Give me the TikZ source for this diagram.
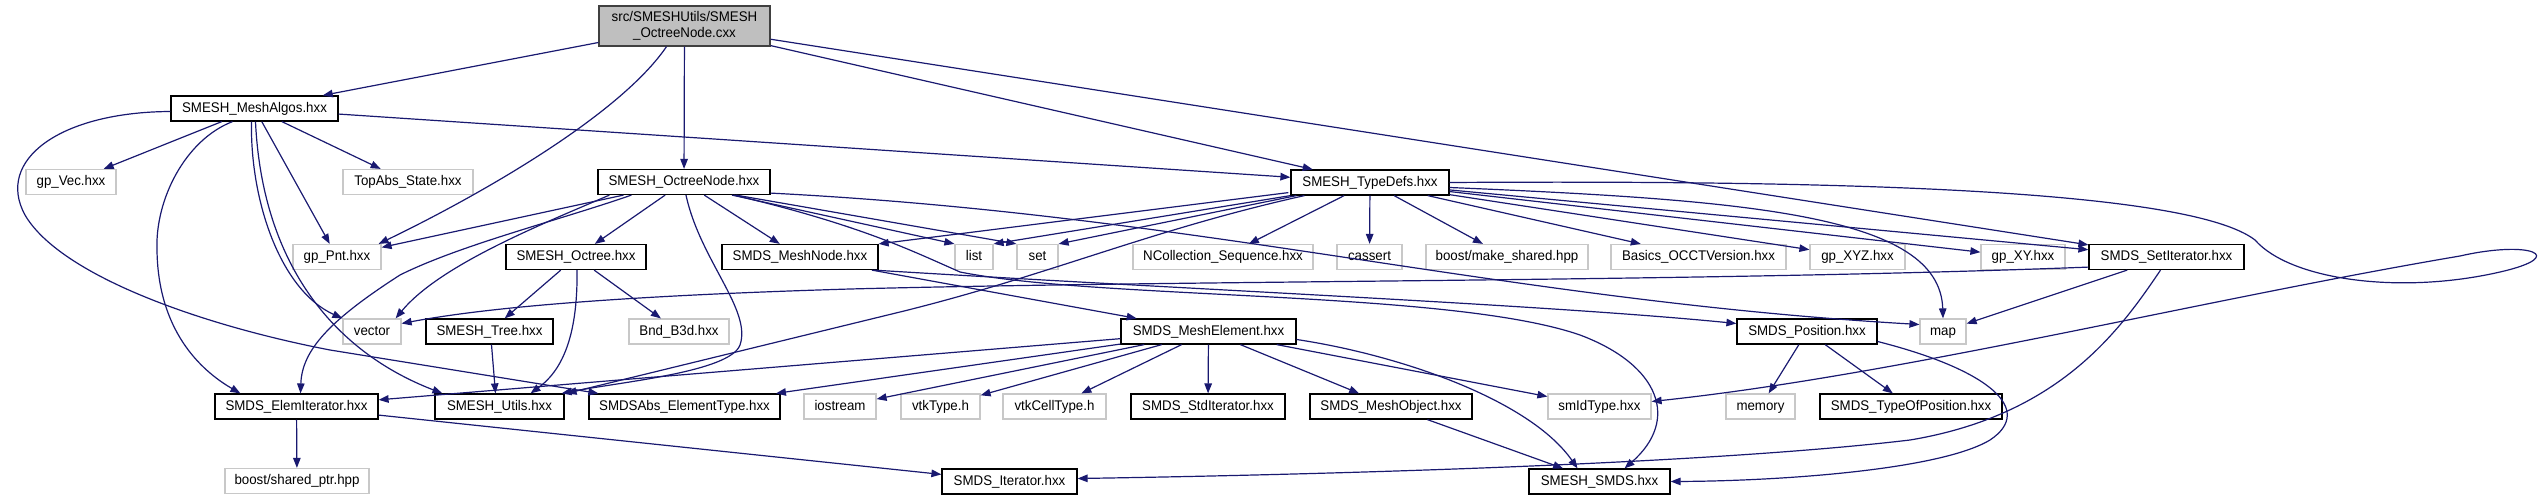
\documentclass[tikz,border=0pt]{standalone}
\usepackage{fontspec}
\setmainfont[FakeStretch=0.95]{Liberation Sans}
\usetikzlibrary{arrows.meta,calc}
\definecolor{edgec}{RGB}{25,25,112}
\definecolor{rootfill}{RGB}{191,191,191}
\definecolor{extc}{RGB}{200,200,200}
\begin{document}
\begin{tikzpicture}[x=1pt,y=-1pt,
  basebox/.style={rectangle, line width=1.2pt, inner sep=0pt, font=\fontsize{14}{16}\selectfont},
  box/.style={basebox, minimum height=25pt, text height=10.2pt, text depth=3pt},
  doc/.style={box, draw=black, fill=white},
  ext/.style={box, draw=extc, fill=white},
  rootbox/.style={basebox, draw=black!75, fill=rootfill, minimum height=40pt, align=center},
  e/.style={draw=edgec, line width=1.2pt, -{Triangle[length=10pt,width=7.5pt]}},
]
\useasboundingbox (0,0) rectangle (2545,500);
% nodes
\node[rootbox, minimum width=171pt] (root) at (684.5,26) {src/SMESHUtils/SMESH\\\_OctreeNode.cxx};
\node[doc, minimum width=167pt] (ma) at (254.5,108.5) {SMESH\_MeshAlgos.hxx};
\node[ext, minimum width=90pt] (vec) at (71,182) {gp\_Vec.hxx};
\node[ext, minimum width=130pt] (ta) at (408,182) {TopAbs\_State.hxx};
\node[doc, minimum width=172pt] (on) at (684,182) {SMESH\_OctreeNode.hxx};
\node[doc, minimum width=158pt] (td) at (1370,182.5) {SMESH\_TypeDefs.hxx};
\node[ext, minimum width=88pt] (pnt) at (337,257) {gp\_Pnt.hxx};
\node[doc, minimum width=140pt] (oc) at (576,257) {SMESH\_Octree.hxx};
\node[doc, minimum width=156pt] (mn) at (800,257) {SMDS\_MeshNode.hxx};
\node[ext, minimum width=38pt] (list) at (974,257) {list};
\node[ext, minimum width=41pt] (set) at (1037.5,257) {set};
\node[ext, minimum width=180pt] (nc) at (1223,257) {NCollection\_Sequence.hxx};
\node[ext, minimum width=65pt] (ca) at (1369.5,257) {cassert};
\node[ext, minimum width=162pt] (ms) at (1507,257) {boost/make\_shared.hpp};
\node[ext, minimum width=175pt] (ba) at (1698.5,257) {Basics\_OCCTVersion.hxx};
\node[ext, minimum width=95pt] (xyz) at (1857.5,257) {gp\_XYZ.hxx};
\node[ext, minimum width=84pt] (xy) at (2023,257) {gp\_XY.hxx};
\node[doc, minimum width=155pt] (si) at (2166.5,257) {SMDS\_SetIterator.hxx};
\node[ext, minimum width=58pt] (vector) at (372,331.5) {vector};
\node[doc, minimum width=127pt] (tr) at (489.5,331.5) {SMESH\_Tree.hxx};
\node[ext, minimum width=100pt] (bnd) at (679,331.5) {Bnd\_B3d.hxx};
\node[doc, minimum width=175pt] (me) at (1208.5,331.5) {SMDS\_MeshElement.hxx};
\node[doc, minimum width=140pt] (pos) at (1807,331.5) {SMDS\_Position.hxx};
\node[ext, minimum width=46pt] (map) at (1943,331.5) {map};
\node[doc, minimum width=163pt] (ei) at (296.5,406.5) {SMDS\_ElemIterator.hxx};
\node[doc, minimum width=129pt] (ut) at (499.5,406.5) {SMESH\_Utils.hxx};
\node[doc, minimum width=191pt] (ab) at (684.5,406.5) {SMDSAbs\_ElementType.hxx};
\node[ext, minimum width=72pt] (io) at (840,406.5) {iostream};
\node[ext, minimum width=79pt] (vt) at (940.5,406.5) {vtkType.h};
\node[ext, minimum width=103pt] (vct) at (1054.5,406.5) {vtkCellType.h};
\node[doc, minimum width=154pt] (std) at (1208,406.5) {SMDS\_StdIterator.hxx};
\node[doc, minimum width=162pt] (mo) at (1391,406.5) {SMDS\_MeshObject.hxx};
\node[ext, minimum width=103pt] (sid) at (1599.5,406.5) {smIdType.hxx};
\node[ext, minimum width=69pt] (mem) at (1760.5,406.5) {memory};
\node[doc, minimum width=182pt] (tpos) at (1911,406.5) {SMDS\_TypeOfPosition.hxx};
\node[ext, minimum width=144pt] (sp) at (297,481) {boost/shared\_ptr.hpp};
\node[doc, minimum width=135pt] (sit) at (1009.5,481.5) {SMDS\_Iterator.hxx};
\node[doc, minimum width=141pt] (smds) at (1599.5,481.5) {SMESH\_SMDS.hxx};
% edges from root
\draw[e] (root) -- (ma);
\draw[e] ($(root.south)+(-18,0)$) .. controls (620,115) and (480,195) .. ($(pnt.north east)+(-3,0)$);
\draw[e] (root) -- (on);
\draw[e] (root) -- (td);
\draw[e] (root) -- (si);
% MeshAlgos
\draw[e] (ma) -- (vec);
\draw[e] (ma) -- (ta);
\draw[e] (ma) -- (pnt);
\draw[e] (ma) -- (td);
\draw[e] ($(ma.south)+(-3,0)$) .. controls (250,200) and (280,290) .. (vector.north west);
\draw[e] ($(ma.south)+(1,0)$) .. controls (262,260) and (330,350) .. ($(ut.north west)+(8,0)$);
\draw[e] ($(ma.south)+(-22,0)$) .. controls (185,140) and (155,200) .. (157,250) .. controls (158,330) and (200,370) .. ($(ei.north west)+(26,0)$);
\draw[e] ($(ma.west)+(0,3)$) .. controls (60,112) and (-5,160) .. (25,215) .. controls (60,275) and (200,325) .. (330,350) -- ($(ab.north west)+(10,0)$);
% OctreeNode.hxx
\draw[e] (on) -- (pnt);
\draw[e] ($(on.south west)+(12,0)$) .. controls (540,225) and (440,265) .. ($(vector.north east)+(-6,0)$);
\draw[e] ($(on.south west)+(34,0)$) .. controls (560,220) and (460,245) .. (400,275) .. controls (330,320) and (302,350) .. ($(ei.north)+(4,0)$);
\draw[e] (on) -- (oc);
\draw[e] (on) -- (mn);
\draw[e] ($(on.south)+(2,0)$) .. controls (700,260) and (752,310) .. (740,345) .. controls (730,372) and (620,382) .. ($(ut.north east)+(-3,0)$);
\draw[e] ($(on.south)+(48,0)$) -- (list.north west);
\draw[e] ($(on.south)+(52,0)$) -- (set.north west);
\draw[e] ($(on.south east)+(0,-2)$) .. controls (1200,215) and (1500,300) .. ($(map.west)+(0,-7)$);
\draw[e] ($(on.south)+(50,0)$) .. controls (860,225) and (910,250) .. (960,272) .. controls (1100,300) and (1450,290) .. (1580,335) .. controls (1660,365) and (1680,420) .. ($(smds.north)+(25,0)$);
% TypeDefs
\draw[e] (td.south west) -- (list.north east);
\draw[e] ($(td.south west)+(6,0)$) -- (set.north east);
\draw[e] ($(td.south west)+(-2,-3)$) -- (mn.north east);
\draw[e] ($(td.south west)+(14,0)$) .. controls (1150,230) and (1050,275) .. (900,312) -- ($(ut.north east)+(2,0)$);
\draw[e] (td) -- (nc);
\draw[e] (td) -- (ca);
\draw[e] (td) -- (ms);
\draw[e] (td) -- (ba);
\draw[e] (td) -- (xyz);
\draw[e] (td) -- (xy);
\draw[e] (td) -- (si);
\draw[e] ($(td.east)+(0,5)$) .. controls (1750,200) and (1940,215) .. (map.north);
\draw[e] (td.east) .. controls (1850,180) and (2190,190) .. (2255,240) .. controls (2290,280) and (2400,295) .. (2500,272) .. controls (2570,256) and (2530,240) .. (2460,256) .. controls (2200,300) and (1900,375) .. ($(sid.east)+(0,-5)$);
% MeshNode
\draw[e] (mn) -- (me);
\draw[e] ($(mn.south east)+(-5,0)$) .. controls (1200,290) and (1550,305) .. ($(pos.west)+(0,-8)$);
% MeshElement
\draw[e] (me) -- (ei);
\draw[e] (me) -- (ab);
\draw[e] (me) -- (io);
\draw[e] (me) -- (vt);
\draw[e] (me) -- (vct);
\draw[e] (me) -- (std);
\draw[e] (me) -- (mo);
\draw[e] (me) -- (sid);
\draw[e] ($(me.east)+(0,8)$) .. controls (1400,355) and (1530,400) .. ($(smds.north)+(-22,0)$);
% Octree
\draw[e] (oc) -- (tr);
\draw[e] (oc) -- (bnd);
\draw[e] ($(oc.south)+(1,0)$) .. controls (578,340) and (560,372) .. ($(ut.north)+(31,0)$);
\draw[e] ($(tr.south)+(2,0)$) -- ($(ut.north)+(-4,0)$);
% SetIterator
\draw[e] ($(si.south west)+(0,-3)$) .. controls (1700,282) and (1200,280) .. (850,289) .. controls (650,295) and (500,305) .. ($(vector.east)+(0,-8)$);
\draw[e] (si) -- (map);
\draw[e] ($(si.south)+(-6,0)$) .. controls (2120,330) and (2060,415) .. (1910,440) .. controls (1700,465) and (1300,475) .. ($(sit.east)+(0,-3)$);
% ElemIterator
\draw[e] (ei) -- (sp);
\draw[e] (ei) -- (sit);
% MeshObject
\draw[e] (mo) -- (smds);
% Position
\draw[e] (pos) -- (mem);
\draw[e] (pos) -- (tpos);
\draw[e] ($(pos.east)+(0,10)$) .. controls (1990,370) and (2035,410) .. (1990,440) .. controls (1940,470) and (1780,481) .. (smds.east);
\end{tikzpicture}
\end{document}
